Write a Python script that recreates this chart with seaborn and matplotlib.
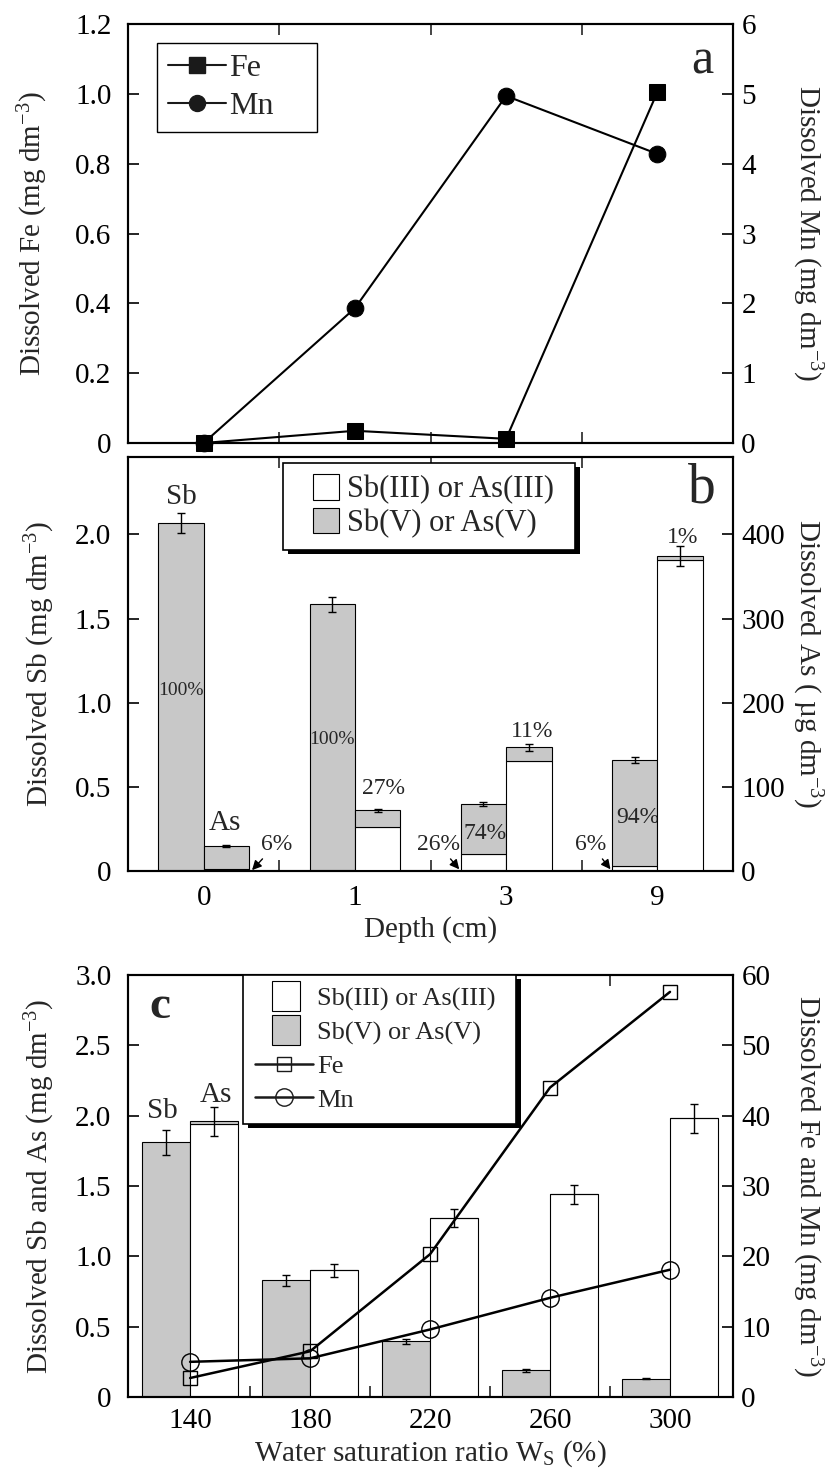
import matplotlib
matplotlib.use("Agg")
import matplotlib.pyplot as plt
import seaborn as sns
import pandas as pd
import numpy as np
from matplotlib.patches import Patch, Rectangle
from matplotlib.lines import Line2D
from matplotlib.legend_handler import HandlerPatch
from matplotlib.ticker import FixedLocator, FuncFormatter

# ---------------- data ----------------
depth_labels = ["0", "1", "3", "9"]
fe_depth = [0.0, 0.035, 0.012, 1.005]          # mg dm-3 (left axis, panel a)
mn_depth = [0.0, 1.93, 4.97, 4.14]             # mg dm-3 (right axis, panel a)

sb_iii_depth = [0.0, 0.0, 0.10, 0.03]          # mg dm-3
sb_v_depth = [2.07, 1.585, 0.30, 0.63]
sb_err_depth = [0.06, 0.045, 0.012, 0.02]
as_iii_depth = [2, 52, 131, 370]               # ug dm-3
as_v_depth = [28, 20, 16, 4]
as_err_depth = [1, 2, 4, 12]

ws_values = [140, 180, 220, 260, 300]
sb_v_ws = [1.81, 0.83, 0.395, 0.19, 0.13]      # mg dm-3
sb_err_ws = [0.09, 0.04, 0.02, 0.01, 0.005]
as_iii_ws = [1.94, 0.90, 1.27, 1.44, 1.98]
as_v_ws = [0.02, 0.0, 0.0, 0.0, 0.0]
as_err_ws = [0.105, 0.045, 0.065, 0.07, 0.10]
fe_ws = [2.7, 6.5, 20.3, 44.0, 57.6]            # mg dm-3 (right axis)
mn_ws = [5.0, 5.5, 9.6, 14.1, 18.1]

# ---------------- style ----------------
sns.set_theme(style="ticks")
plt.rcParams["font.family"] = ["Liberation Serif", "DejaVu Serif"]
plt.rcParams["mathtext.fontset"] = "custom"
plt.rcParams["mathtext.rm"] = "Liberation Serif"
plt.rcParams["mathtext.it"] = "Liberation Serif:italic"
plt.rcParams["mathtext.bf"] = "Liberation Serif:bold"
plt.rcParams["axes.linewidth"] = 1.5
plt.rcParams["axes.edgecolor"] = "black"
plt.rcParams["legend.framealpha"] = 1.0

GRAY = "#c8c8c8"
FS = 21
W, H = 831, 1474
fig = plt.figure(figsize=(W / 100, H / 100), dpi=100)


def rect(top, bottom, left=128, right=733):
    return [left / W, 1 - bottom / H, (right - left) / W, (bottom - top) / H]


ax_a = fig.add_axes(rect(24, 443))
ax_b = fig.add_axes(rect(457, 871))
ax_c = fig.add_axes(rect(975, 1397))


def fmt0(v, _):
    return "0" if abs(v) < 1e-9 else f"{v:.1f}"


def style_axes(ax, ax2):
    ax.tick_params(axis="y", direction="in", length=8, width=1.2, labelsize=FS, pad=12, colors="black")
    ax2.tick_params(axis="y", direction="in", length=8, width=1.2, labelsize=FS, pad=6, colors="black")
    ax.tick_params(axis="x", which="major", length=0, labelsize=FS, pad=10, colors="black")
    ax.tick_params(axis="x", which="minor", direction="in", length=8, width=1.2, top=True, bottom=True)
    for sp in ax.spines.values():
        sp.set_linewidth(1.5)
    for sp in ax2.spines.values():
        sp.set_linewidth(1.5)


def ylab(ax, text, x, side="left"):
    if side == "left":
        ax.set_ylabel(text, fontsize=FS)
    else:
        ax.set_ylabel(text, fontsize=FS, rotation=270, va="bottom")
    ax.yaxis.set_label_coords(x, 0.5)


def patch_maker(x0, x1, yoff, hfac):
    def f(legend, orig_handle, xdescent, ydescent, width, height, fontsize):
        return Rectangle((-xdescent + width * x0, -ydescent - height * yoff),
                         width * (x1 - x0), height * hfac)
    return f


legends = []

# ---------------- panel a ----------------
xa = np.arange(len(depth_labels))
df_a = pd.DataFrame({"x": xa, "Fe": fe_depth, "Mn": mn_depth})
ax_a2 = ax_a.twinx()
sns.lineplot(data=df_a, x="x", y="Fe", ax=ax_a, color="black", lw=1.5, marker="s",
             markersize=12, markeredgecolor="black", markerfacecolor="black", zorder=3)
sns.lineplot(data=df_a, x="x", y="Mn", ax=ax_a2, color="black", lw=1.5, marker="o",
             markersize=12, markeredgecolor="black", markerfacecolor="black", zorder=3)
ax_a.set_xlim(-0.5, 3.5)
ax_a.set_ylim(0, 1.2)
ax_a2.set_ylim(0, 6)
ax_a.set_yticks(np.arange(0, 1.21, 0.2))
ax_a.yaxis.set_major_formatter(FuncFormatter(fmt0))
ax_a2.set_yticks(range(0, 7))
ax_a.set_xticks(xa)
ax_a.set_xticklabels([])
ax_a.xaxis.set_minor_locator(FixedLocator([0.5, 1.5, 2.5]))
ax_a.set_xlabel("")
style_axes(ax_a, ax_a2)
for m in ax_a.get_lines() + ax_a2.get_lines():
    m.set_clip_on(False)
ylab(ax_a, "Dissolved Fe (mg dm$^{-3}$)", -0.129)
ylab(ax_a2, "Dissolved Mn (mg dm$^{-3}$)", 1.094, side="right")
ax_a2.text(0.949, 0.91, "a", transform=ax_a2.transAxes, fontsize=36, ha="center", va="center")
ha = [Line2D([], [], color="k", lw=1.5, marker="s", markersize=11.5, mfc="k", mec="k"),
      Line2D([], [], color="k", lw=1.5, marker="o", markersize=11.5, mfc="k", mec="k")]
leg_a = ax_a2.legend(ha, ["Fe", "Mn"], loc="upper left",
                     bbox_to_anchor=(0.048, 0.945, 0.264, 0.01), mode="expand",
                     borderaxespad=0, frameon=True, fancybox=False, edgecolor="black",
                     fontsize=23, handlelength=1.8, handletextpad=0.12, labelspacing=0.25,
                     borderpad=0.35)
leg_a.get_frame().set_linewidth(1.0)

# ---------------- panel b ----------------
ax_b2 = ax_b.twinx()
bw = 0.3
xb_sb = xa - bw / 2
xb_as = xa + bw / 2
ax_b.bar(xb_sb, sb_iii_depth, width=bw, color="white", edgecolor="black", lw=0.8, zorder=2)
ax_b.bar(xb_sb, sb_v_depth, width=bw, bottom=sb_iii_depth, color=GRAY, edgecolor="black", lw=0.8, zorder=2)
sb_tot = np.array(sb_iii_depth) + np.array(sb_v_depth)
ax_b.errorbar(xb_sb, sb_tot, yerr=sb_err_depth, fmt="none", ecolor="black", elinewidth=1, capsize=3, capthick=1, zorder=3)
ax_b2.bar(xb_as, as_iii_depth, width=bw, color="white", edgecolor="black", lw=0.8, zorder=2)
ax_b2.bar(xb_as, as_v_depth, width=bw, bottom=as_iii_depth, color=GRAY, edgecolor="black", lw=0.8, zorder=2)
as_tot = np.array(as_iii_depth) + np.array(as_v_depth)
ax_b2.errorbar(xb_as, as_tot, yerr=as_err_depth, fmt="none", ecolor="black", elinewidth=1, capsize=3, capthick=1, zorder=3)
ax_b.set_xlim(-0.5, 3.5)
ax_b.set_ylim(0, 2.46)
ax_b2.set_ylim(0, 2.46 * 200)
ax_b.set_yticks([0, 0.5, 1.0, 1.5, 2.0])
ax_b.yaxis.set_major_formatter(FuncFormatter(fmt0))
ax_b2.set_yticks([0, 100, 200, 300, 400])
ax_b.set_xticks(xa)
ax_b.set_xticklabels(depth_labels)
ax_b.xaxis.set_minor_locator(FixedLocator([0.5, 1.5, 2.5]))
style_axes(ax_b, ax_b2)
ax_b.set_xlabel("Depth (cm)", fontsize=FS, labelpad=4)
ylab(ax_b, "Dissolved Sb (mg dm$^{-3}$)", -0.117)
ylab(ax_b2, "Dissolved As ( \u00b5g dm$^{-3}$)", 1.094, side="right")
ax_b2.text(0.949, 0.925, "b", transform=ax_b2.transAxes, fontsize=40, ha="center", va="center")

t_small = 14
t_mid = 17
ax_b.text(-0.15, 2.22, "Sb", fontsize=FS, ha="center", va="center")
ax_b.text(0.14, 0.285, "As", fontsize=FS, ha="center", va="center")
ax_b.text(-0.15, 1.07, "100%", fontsize=t_small, ha="center", va="center", zorder=4)
ax_b.text(0.85, 0.78, "100%", fontsize=t_small, ha="center", va="center", zorder=4)
ax_b.text(0.15, 0.07, "94%", fontsize=t_mid, ha="center", va="center", zorder=4)
ax_b.text(1.19, 0.49, "27%", fontsize=t_mid, ha="center", va="center", zorder=4)
ax_b.text(1.86, 0.22, "74%", fontsize=t_mid, ha="center", va="center", zorder=4)
ax_b.text(2.17, 0.83, "11%", fontsize=t_mid, ha="center", va="center", zorder=4)
ax_b.text(2.87, 0.32, "94%", fontsize=t_mid, ha="center", va="center", zorder=4)
ax_b.text(3.17, 1.98, "1%", fontsize=t_mid, ha="center", va="center", zorder=4)
arrow = dict(arrowstyle="-|>", color="black", lw=1.0, shrinkA=1, shrinkB=0, mutation_scale=14)
ax_b.annotate("6%", xy=(0.32, 0.005), xytext=(0.48, 0.16), fontsize=t_mid, ha="center", va="center",
              arrowprops=arrow, zorder=4)
ax_b.annotate("26%", xy=(1.69, 0.01), xytext=(1.55, 0.16), fontsize=t_mid, ha="center", va="center",
              arrowprops=arrow, zorder=4)
ax_b.annotate("6%", xy=(2.69, 0.01), xytext=(2.56, 0.16), fontsize=t_mid, ha="center", va="center",
              arrowprops=arrow, zorder=4)

hb = [Patch(facecolor="white", edgecolor="black", lw=0.8),
      Patch(facecolor=GRAY, edgecolor="black", lw=0.8)]
leg_b = ax_b2.legend(hb, ["Sb(III) or As(III)", "Sb(V) or As(V)"], loc="upper left",
                     bbox_to_anchor=(0.256, 0.9755, 0.483, 0.01), mode="expand",
                     borderaxespad=0, frameon=True, fancybox=False,
                     edgecolor="black", fontsize=22, handlelength=1.45, handleheight=0.7,
                     handletextpad=0.25, labelspacing=0.14, borderpad=0.4,
                     handler_map={Patch: HandlerPatch(patch_func=patch_maker(0.4, 1.0, 0.1, 1.2))})
leg_b.get_frame().set_linewidth(1.2)
legends.append(leg_b)

# ---------------- panel c ----------------
ax_c2 = ax_c.twinx()
cw = 16
xc = np.array(ws_values, dtype=float)
ax_c.bar(xc - cw / 2, sb_v_ws, width=cw, color=GRAY, edgecolor="black", lw=0.8, zorder=2)
ax_c.errorbar(xc - cw / 2, sb_v_ws, yerr=sb_err_ws, fmt="none", ecolor="black", elinewidth=1, capsize=3, capthick=1, zorder=3)
ax_c.bar(xc + cw / 2, as_iii_ws, width=cw, color="white", edgecolor="black", lw=0.8, zorder=2)
ax_c.bar(xc + cw / 2, as_v_ws, width=cw, bottom=as_iii_ws, color=GRAY, edgecolor="black", lw=0.8, zorder=2)
as_tot_c = np.array(as_iii_ws) + np.array(as_v_ws)
ax_c.errorbar(xc + cw / 2, as_tot_c, yerr=as_err_ws, fmt="none", ecolor="black", elinewidth=1, capsize=3, capthick=1, zorder=3)
df_c = pd.DataFrame({"Ws": xc, "Fe": fe_ws, "Mn": mn_ws})
sns.lineplot(data=df_c, x="Ws", y="Fe", ax=ax_c2, color="black", lw=1.8, marker="s", markersize=9.5,
             markeredgecolor="black", markerfacecolor="none", markeredgewidth=1.0, zorder=3)
sns.lineplot(data=df_c, x="Ws", y="Mn", ax=ax_c2, color="black", lw=1.8, marker="o", markersize=12.5,
             markeredgecolor="black", markerfacecolor="none", markeredgewidth=1.0, zorder=3)
ax_c.set_xlim(119.3, 321)
ax_c.set_ylim(0, 3.0)
ax_c2.set_ylim(0, 60)
ax_c.set_yticks(np.arange(0, 3.01, 0.5))
ax_c.yaxis.set_major_formatter(FuncFormatter(fmt0))
ax_c2.set_yticks(range(0, 61, 10))
ax_c.set_xticks(ws_values)
ax_c.set_xticklabels([str(v) for v in ws_values])
ax_c.xaxis.set_minor_locator(FixedLocator([160, 200, 240, 280]))
style_axes(ax_c, ax_c2)
ax_c.tick_params(axis="x", which="major", pad=8)
ax_c2.set_xlabel("")
ax_c.set_xlabel("Water saturation ratio W$_\\mathrm{S}$ (%)", fontsize=FS, labelpad=3)
ylab(ax_c, "Dissolved Sb and As (mg dm$^{-3}$)", -0.117)
ylab(ax_c2, "Dissolved Fe and Mn (mg dm$^{-3}$)", 1.094, side="right")
ax_c2.text(0.053, 0.925, "c", transform=ax_c2.transAxes, fontsize=34, fontweight="bold",
           ha="center", va="center")
ax_c.text(130.6, 2.03, "Sb", fontsize=FS, ha="center", va="center")
ax_c.text(148.6, 2.15, "As", fontsize=FS, ha="center", va="center")

hc = [Patch(facecolor="white", edgecolor="black", lw=0.8),
      Patch(facecolor=GRAY, edgecolor="black", lw=0.8),
      Line2D([], [], color="k", lw=1.8, marker="s", markersize=9.5, mfc="none", mec="k"),
      Line2D([], [], color="k", lw=1.8, marker="o", markersize=12.5, mfc="none", mec="k")]
leg_c = ax_c2.legend(hc, ["Sb(III) or As(III)", "Sb(V) or As(V)", "Fe", "Mn"], loc="upper left",
                     bbox_to_anchor=(0.19, 0.99, 0.451, 0.01), mode="expand",
                     borderaxespad=0, frameon=True, fancybox=False,
                     edgecolor="black", fontsize=19, handlelength=2.2, handletextpad=0.15,
                     labelspacing=0.38, borderpad=0.45,
                     handler_map={Patch: HandlerPatch(patch_func=patch_maker(0.3, 0.78, 0.3, 1.6))})
leg_c.get_frame().set_linewidth(1.2)
legends.append(leg_c)

# thick black drop shadows for legends b and c
fig.canvas.draw()
for leg in legends:
    bb = leg.get_window_extent()
    axp = leg.axes
    sh = Rectangle((bb.x0 + 5, bb.y0 - 4), bb.width, bb.height, transform=None,
                   facecolor="black", edgecolor="none", zorder=4.9, clip_on=False)
    axp.add_artist(sh)
    leg.set_zorder(5)

fig.savefig("out.png", dpi=100)
